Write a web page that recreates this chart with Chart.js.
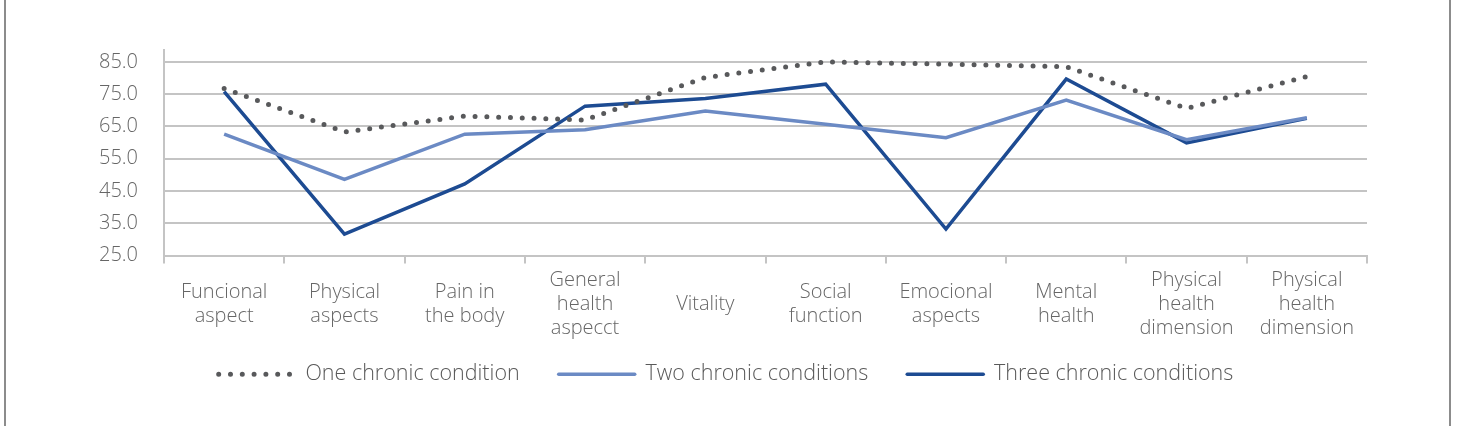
<!DOCTYPE html>
<html>
<head>
<meta charset="utf-8">
<script src="https://cdn.jsdelivr.net/npm/chart.js@4.4.1/dist/chart.umd.min.js"></script>
<style>
  body { margin: 0; background: #fff; }
  #frame {
    position: absolute; left: 4px; top: 0; width: 1443px; height: 426px;
    border-left: 2px solid #8c8c8c; border-right: 2px solid #8c8c8c;
  }
  #wrap { position: absolute; left: 0; top: 0; width: 1474px; height: 426px; }
</style>
</head>
<body>
<div id="frame"></div>
<div id="wrap"><canvas id="sf36-chart"></canvas></div>
<script>
const categories = [
  ["Funcional", "aspect"],
  ["Physical", "aspects"],
  ["Pain in", "the body"],
  ["General", "health", "aspecct"],
  "Vitality",
  ["Social", "function"],
  ["Emocional", "aspects"],
  ["Mental", "health"],
  ["Physical", "health", "dimension"],
  ["Physical", "health", "dimension"]
];
const oneChronic = [76.8, 63.3, 68.2, 67.0, 80.2, 85.0, 84.3, 83.5, 70.6, 80.5];
const twoChronic = [62.6, 48.6, 62.6, 64.0, 69.8, 65.7, 61.5, 73.2, 60.9, 67.7];
const threeChronic = [75.8, 31.6, 47.2, 71.3, 73.7, 78.1, 33.2, 79.7, 59.9, 67.5];
const yTicks = [25, 35, 45, 55, 65, 75, 85];

const textGray = "#666666";
const gridGray = "#c4c4c4";
const font = "'Open Sans', 'DejaVu Sans', sans-serif";

// x labels are clipped to the axis box, so let the box reach down under the legend gap
const roomForLabels = {
  id: "roomForLabels",
  afterLayout(chart) {
    const x = chart.scales.x;
    x.bottom = x.top + 95;
  }
};

const sf36_chart = document.getElementById("sf36-chart");

new Chart(sf36_chart, {
  type: "line",
  data: {
    labels: categories,
    datasets: [
      {
        label: "One chronic condition",
        data: oneChronic,
        borderColor: "#58595b",
        backgroundColor: "#58595b",
        borderWidth: 5,
        borderDash: [0, 11.8],
        borderCapStyle: "round",
        pointRadius: 0,
        fill: false,
        tension: 0
      },
      {
        label: "Two chronic conditions",
        data: twoChronic,
        borderColor: "#6b8ac4",
        backgroundColor: "#6b8ac4",
        borderWidth: 3.5,
        pointRadius: 0,
        fill: false,
        tension: 0
      },
      {
        label: "Three chronic conditions",
        data: threeChronic,
        borderColor: "#1d4b92",
        backgroundColor: "#1d4b92",
        borderWidth: 3.5,
        pointRadius: 0,
        fill: false,
        tension: 0
      }
    ]
  },
  plugins: [roomForLabels],
  options: {
    responsive: true,
    maintainAspectRatio: false,
    animation: false,
    layout: { padding: { left: 85, right: 107, top: 50, bottom: 31 } },
    plugins: {
      tooltip: { enabled: false },
      legend: {
        position: "bottom",
        labels: {
          usePointStyle: true,
          pointStyle: "line",
          pointStyleWidth: 76,
          padding: 39,
          color: "#595959",
          font: { family: font, size: 21.5, weight: 300 },
          // legend takes the point style by default, so copy the line look over
          generateLabels: (chart) => {
            const items = Chart.defaults.plugins.legend.labels.generateLabels(chart);
            items.forEach(item => {
              const ds = chart.data.datasets[item.datasetIndex];
              item.lineDash = ds.borderDash || [];
              item.lineCap = ds.borderCapStyle || "round";
              item.lineWidth = ds.borderWidth;
              item.strokeStyle = ds.borderColor;
            });
            return items;
          }
        }
      }
    },
    scales: {
      x: {
        offset: true,
        grid: {
          offset: true,
          drawOnChartArea: false,
          drawTicks: true,
          tickLength: 8,
          color: gridGray,
          lineWidth: 2
        },
        border: { color: gridGray, width: 2 },
        ticks: {
          color: textGray,
          padding: 17,
          crossAlign: "center",
          maxRotation: 0,
          autoSkip: false,
          font: { family: font, size: 20, weight: 300, lineHeight: 1.2 }
        },
        afterFit: (scale) => { scale.height = 69; }
      },
      y: {
        min: 25,
        max: 88.7,
        afterBuildTicks: (scale) => { scale.ticks = yTicks.map(v => ({ value: v })); },
        grid: { color: gridGray, lineWidth: 2, drawTicks: false },
        border: { color: gridGray, width: 2 },
        ticks: {
          color: textGray,
          padding: 26,
          font: { family: font, size: 20, weight: 300 },
          callback: (v) => Number(v).toFixed(1)
        },
        afterFit: (scale) => { scale.width = 79; }
      }
    }
  }
});
</script>
</body>
</html>
